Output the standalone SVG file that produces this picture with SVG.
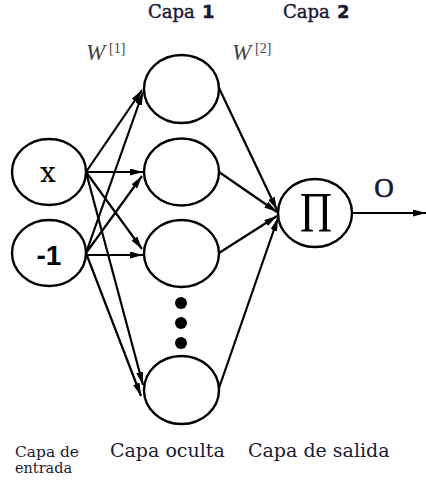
<svg xmlns="http://www.w3.org/2000/svg" width="426" height="481" viewBox="0 0 426 481">
<style>
.node{fill:#fff;stroke:#000;stroke-width:2.4}
.edge{stroke:#000;stroke-width:2.2;fill:none;marker-end:url(#ah)}
.lbl{font-family:"DejaVu Serif",serif;fill:#1a1a33}
.top{font-family:"DejaVu Serif",serif;font-size:18px;fill:#1a1a33;stroke:#1a1a33;stroke-width:0.4}
.num{font-family:"DejaVu Sans",sans-serif;font-weight:bold}
.w{font-family:"Liberation Serif",serif;fill:#444}
</style>
<defs>
<marker id="ah" viewBox="0 0 13 7" refX="13" refY="3.5" markerWidth="13" markerHeight="7" markerUnits="userSpaceOnUse" orient="auto">
<path d="M0,0 L13,3.5 L0,7 z" fill="#000"/>
</marker>
</defs>
<rect width="426" height="481" fill="#fff"/>
<text class="top" x="148" y="18">Capa <tspan class="num" x="202">1</tspan></text>
<text class="top" x="283" y="18">Capa <tspan class="num" x="337">2</tspan></text>
<text class="w" x="86" y="60" font-size="23" font-style="italic">W</text>
<text class="w" x="109" y="53" font-size="14">[1]</text>
<text class="w" x="232" y="60" font-size="23" font-style="italic">W</text>
<text class="w" x="255" y="53" font-size="14">[2]</text>
<g id="connectors">
<line class="edge" x1="86" y1="172" x2="142" y2="90"/>
<line class="edge" x1="86" y1="253" x2="143" y2="92"/>
<line class="edge" x1="86" y1="172" x2="143" y2="172"/>
<line class="edge" x1="86" y1="253" x2="142" y2="176"/>
<line class="edge" x1="86" y1="172" x2="142" y2="249"/>
<line class="edge" x1="86" y1="255" x2="143" y2="255"/>
<line class="edge" x1="86" y1="172" x2="143" y2="385"/>
<line class="edge" x1="86" y1="253" x2="141" y2="396"/>
<line class="edge" x1="219" y1="88" x2="277" y2="210"/>
<line class="edge" x1="219" y1="172" x2="277" y2="212"/>
<line class="edge" x1="219" y1="253" x2="277" y2="216"/>
<line class="edge" x1="219" y1="388" x2="278" y2="218"/>
<line class="edge" x1="352" y1="213" x2="426" y2="213"/>
</g>
<g id="in_x"><ellipse class="node" cx="49" cy="172" rx="37" ry="33"/><text x="48" y="182" font-family="DejaVu Serif,serif" font-size="28" text-anchor="middle">x</text></g>
<g id="in_bias"><ellipse class="node" cx="49" cy="253" rx="37" ry="33"/><text x="49" y="265" font-family="Liberation Sans,sans-serif" font-weight="bold" font-size="28" text-anchor="middle">-1</text></g>
<g id="h1"><ellipse class="node" cx="181.5" cy="89" rx="37.5" ry="34"/></g>
<g id="h2"><ellipse class="node" cx="181.5" cy="172" rx="37.5" ry="33.5"/></g>
<g id="h3"><ellipse class="node" cx="181.5" cy="253.5" rx="37.5" ry="33.5"/></g>
<g id="dots"><circle cx="181" cy="303" r="6"/><circle cx="181" cy="323" r="6"/><circle cx="181" cy="343" r="6"/></g>
<g id="h4"><ellipse class="node" cx="181.5" cy="390" rx="37.5" ry="34"/></g>
<g id="out"><ellipse class="node" cx="315" cy="213" rx="37" ry="34"/><text x="316" y="232" font-family="Liberation Serif,serif" font-size="58" text-anchor="middle" textLength="32" lengthAdjust="spacingAndGlyphs">Π</text></g>
<text x="384" y="197" font-family="Liberation Serif,serif" font-size="27" text-anchor="middle" fill="#1a1a33" stroke="#1a1a33" stroke-width="0.6">O</text>
<text class="lbl" x="15" y="457" font-size="14" textLength="64" lengthAdjust="spacingAndGlyphs">Capa de</text>
<text class="lbl" x="15" y="473" font-size="14" textLength="57" lengthAdjust="spacingAndGlyphs">entrada</text>
<text class="lbl" x="110" y="457" font-size="19">Capa oculta</text>
<text class="lbl" x="248" y="457" font-size="19">Capa de salida</text>
</svg>
